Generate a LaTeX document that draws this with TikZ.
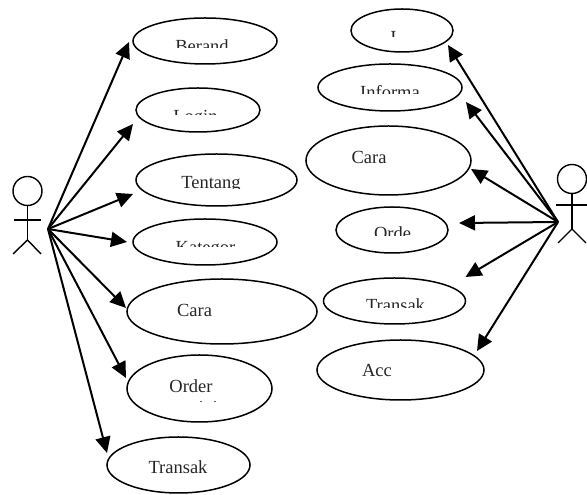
\documentclass[tikz,border=0pt]{standalone}
\usepackage{fontspec}
\setmainfont{Liberation Serif}
\usetikzlibrary{arrows.meta, shapes.geometric}
\tikzset{
  usecase/.style = {draw, ellipse, line width = 1.5pt, inner sep = 0pt, outer sep = 0pt},
  caselabel/.style = {anchor = base, inner sep = 0pt, text = black!85, font = \fontsize{18.5}{20}\selectfont},
  actorline/.style = {line width = 1.4pt},
  usearrow/.style = {line width = 2pt, -{Triangle[length = 16pt, width = 15pt]}}
}
% label of which only the part above the cut shows
\newcommand{\cutlabel}[5]{
  \begin{scope}
  \clip (0,#4) rectangle (587,495);
  \node [caselabel] (#1) at (#2,#3) {#5};
  \end{scope}
}
\begin{document}
\begin{tikzpicture}[x = 1pt, y = 1pt]
\useasboundingbox (0,0) rectangle (587,495);
% left side
\node [usecase, minimum width = 144pt, minimum height = 46pt] (berand) at (205,454) {};
\node [usecase, minimum width = 124pt, minimum height = 44pt] (login) at (198,385) {};
\node [usecase, minimum width = 161pt, minimum height = 52pt] (tentang) at (216.5,315) {};
\node [usecase, minimum width = 144pt, minimum height = 46pt] (kategor) at (205,253) {};
\node [usecase, minimum width = 190pt, minimum height = 65pt] (caraleft) at (222,183.5) {};
\node [usecase, minimum width = 145pt, minimum height = 67pt] (order) at (199.5,106.5) {};
\node [usecase, minimum width = 143pt, minimum height = 56pt] (transakleft) at (178.5,30) {};
% right side
\node [usecase, minimum width = 102pt, minimum height = 43pt] (itemi) at (402,464.5) {};
\node [usecase, minimum width = 144pt, minimum height = 47pt] (informa) at (390,407.5) {};
\node [usecase, minimum width = 165pt, minimum height = 69pt] (cararight) at (388.5,334.5) {};
\node [usecase, minimum width = 112pt, minimum height = 46pt] (orde) at (392,265) {};
\node [usecase, minimum width = 142pt, minimum height = 46pt] (transakright) at (394.5,194) {};
\node [usecase, minimum width = 167pt, minimum height = 60pt] (acc) at (400.5,125) {};
% labels
\cutlabel{berandtext}{202}{442}{447.3}{Berand}
\cutlabel{logintext}{195.5}{372}{380}{Login}
\cutlabel{tentangtext}{211}{306.5}{306}{Tentang}
\cutlabel{kategortext}{205.5}{241}{248}{Kategor}
\node [caselabel] (caralefttext) at (194.5,178) {Cara};
\node [caselabel] (ordertext) at (191,102) {Order};
\node [caselabel] (transaklefttext) at (178,21) {Transak};
\cutlabel{itemitext}{393.5}{451}{458}{I}
\cutlabel{informatext}{390}{396}{401}{Informa}
\node [caselabel] (cararighttext) at (369,331) {Cara};
\cutlabel{ordetext}{392.5}{255}{259}{Orde}
\cutlabel{transakrighttext}{395.5}{183}{187}{Transak}
\node [caselabel] (acctext) at (377,118) {Acc};
\draw [black!60, line width = 0.6pt] (200,94) -- (202,94) (214,94) -- (216,94);
% left actor
\node [draw, circle, actorline, minimum size = 29pt, inner sep = 0pt] (headleft) at (27.5,304) {};
\coordinate (hipleft) at (27.5,255);
\coordinate (actorleft) at (48,266);
\draw [actorline] (headleft.south) -- (hipleft);
\draw [actorline] (14,275) -- (41,275);
\draw [actorline] (13,241) -- (hipleft) -- (41,241);
% right actor
\node [draw, circle, actorline, minimum size = 29pt, inner sep = 0pt] (headright) at (572,316) {};
\coordinate (hipright) at (572,266);
\coordinate (actorright) at (558,273);
\draw [actorline] (headright.south) -- (hipright);
\draw [actorline] (556,290) -- (587,290);
\draw [actorline] (558,252) -- (hipright) -- (586,252);
% arrows
\draw [usearrow] (actorleft) -- ([xshift = -4pt, yshift = -1pt]berand.west);
\draw [usearrow] (actorleft) -- ([xshift = -3pt, yshift = -14pt]login.west);
\draw [usearrow] (actorleft) -- ([xshift = -3pt, yshift = -14pt]tentang.west);
\draw [usearrow] (actorleft) -- ([xshift = -6pt]kategor.west);
\draw [usearrow] (actorleft) -- ([xshift = -1pt, yshift = 3.5pt]caraleft.west);
\draw [usearrow] (actorleft) -- ([xshift = -1pt, yshift = 10.5pt]order.west);
\draw [usearrow] (actorleft) -- ([yshift = 12pt]transakleft.west);
\draw [usearrow] (actorright) -- ([xshift = -5pt, yshift = -14.5pt]itemi.east);
\draw [usearrow] (actorright) -- ([xshift = 4pt, yshift = -14.5pt]informa.east);
\draw [usearrow] (actorright) -- ([yshift = -8.5pt]cararight.east);
\draw [usearrow] (actorright) -- ([xshift = 11pt, yshift = 7pt]orde.east);
\draw [usearrow] (actorright) -- ([yshift = 24pt]transakright.east);
\draw [usearrow] (actorright) -- ([xshift = -7pt, yshift = 19pt]acc.east);
\end{tikzpicture}
\end{document}
